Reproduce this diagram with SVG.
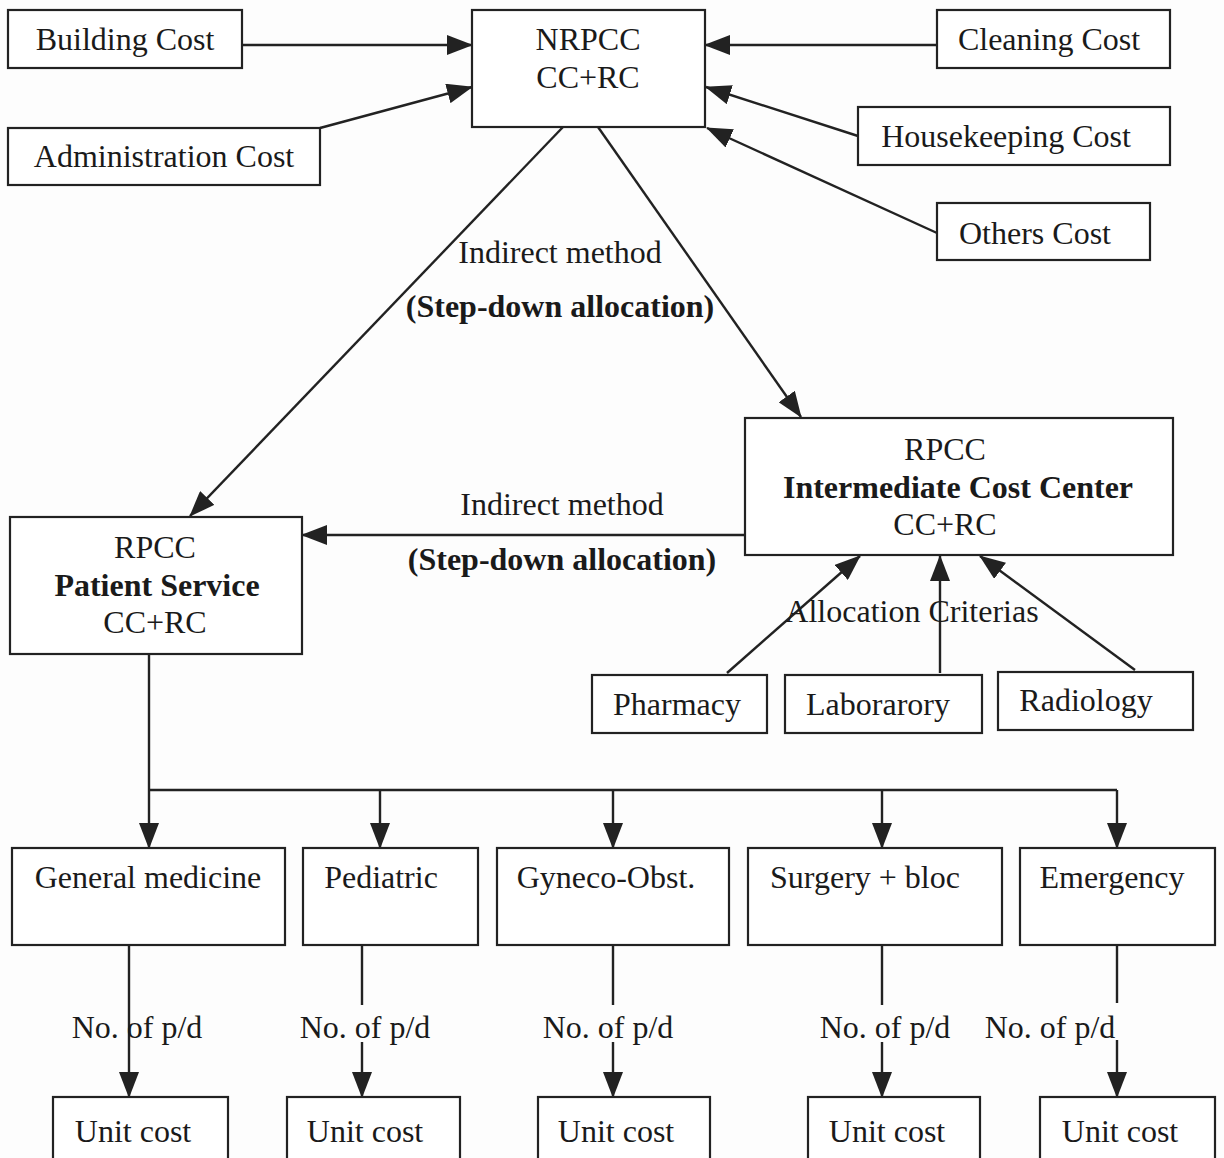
<svg xmlns="http://www.w3.org/2000/svg" width="1224" height="1158" viewBox="0 0 1224 1158">
<style>
.box{fill:#ffffff;stroke:#222;stroke-width:2.2}
.t{font-family:"Liberation Serif","Times New Roman",serif;font-size:32px;fill:#1a1a1a;text-anchor:middle}
.b{font-weight:bold}
.c{fill:none;stroke:#222;stroke-width:2.4}
.ca{fill:none;stroke:#222;stroke-width:2.4;marker-end:url(#ah)}
</style>
<defs>
<marker id="ah" markerUnits="userSpaceOnUse" markerWidth="26" markerHeight="20" viewBox="0 0 26 20" refX="25" refY="10" orient="auto">
<path d="M0,0 L26,10 L0,20 z" fill="#222"/>
</marker>
</defs>
<rect width="1224" height="1158" fill="#fdfdfd"/>
<g id="connectors">
<line class="ca" x1="242" y1="45" x2="472" y2="45"/>
<line class="ca" x1="320" y1="128" x2="472" y2="87"/>
<line class="ca" x1="937" y1="45" x2="705" y2="45"/>
<line class="ca" x1="858" y1="136" x2="706" y2="87"/>
<line class="ca" x1="937" y1="233" x2="707" y2="128"/>
<line class="ca" x1="563" y1="127" x2="190" y2="516"/>
<line class="ca" x1="598" y1="127" x2="801" y2="417"/>
<line class="ca" x1="745" y1="535" x2="302" y2="535"/>
<line class="ca" x1="727" y1="673" x2="860" y2="556"/>
<line class="ca" x1="940" y1="673" x2="940" y2="556"/>
<line class="ca" x1="1135" y1="670" x2="980" y2="556"/>
<line class="c" x1="149" y1="654" x2="149" y2="790"/>
<line class="ca" x1="149" y1="790" x2="149" y2="848"/>
<line class="c" x1="149" y1="790" x2="1117" y2="790"/>
<line class="ca" x1="380" y1="790" x2="380" y2="848"/>
<line class="ca" x1="613" y1="790" x2="613" y2="848"/>
<line class="ca" x1="882" y1="790" x2="882" y2="848"/>
<line class="ca" x1="1117" y1="790" x2="1117" y2="848"/>
<line class="ca" x1="129" y1="945" x2="129" y2="1097"/>
<line class="c" x1="362" y1="945" x2="362" y2="1005"/>
<line class="ca" x1="362" y1="1042" x2="362" y2="1097"/>
<line class="c" x1="613" y1="945" x2="613" y2="1005"/>
<line class="ca" x1="613" y1="1042" x2="613" y2="1097"/>
<line class="c" x1="882" y1="945" x2="882" y2="1005"/>
<line class="ca" x1="882" y1="1042" x2="882" y2="1097"/>
<line class="c" x1="1117" y1="945" x2="1117" y2="1003"/>
<line class="ca" x1="1117" y1="1040" x2="1117" y2="1097"/>
<text class="t" x="560" y="263">Indirect method</text>
<text class="t b" x="560" y="317">(Step-down allocation)</text>
<text class="t" x="562" y="515">Indirect method</text>
<text class="t b" x="562" y="570">(Step-down allocation)</text>
<text class="t" x="912" y="622">Allocation Criterias</text>
<text class="t" x="137" y="1038">No. of p/d</text>
<text class="t" x="365" y="1038">No. of p/d</text>
<text class="t" x="608" y="1038">No. of p/d</text>
<text class="t" x="885" y="1038">No. of p/d</text>
<text class="t" x="1050" y="1038">No. of p/d</text>
</g>
<g id="building"><rect class="box" x="8" y="10" width="234" height="58"/><text class="t" x="125" y="50">Building Cost</text></g>
<g id="nrpcc"><rect class="box" x="472" y="10" width="233" height="117"/><text class="t" x="588" y="50">NRPCC</text><text class="t" x="588" y="88">CC+RC</text></g>
<g id="cleaning"><rect class="box" x="937" y="10" width="233" height="58"/><text class="t" x="1049" y="50">Cleaning Cost</text></g>
<g id="admin"><rect class="box" x="8" y="128" width="312" height="57"/><text class="t" x="164" y="167">Administration Cost</text></g>
<g id="housekeeping"><rect class="box" x="858" y="107" width="312" height="58"/><text class="t" x="1006" y="147">Housekeeping Cost</text></g>
<g id="others"><rect class="box" x="937" y="203" width="213" height="57"/><text class="t" x="1035" y="244">Others Cost</text></g>
<g id="intermediate"><rect class="box" x="745" y="418" width="428" height="137"/><text class="t" x="945" y="460">RPCC</text><text class="t b" x="958" y="498">Intermediate Cost Center</text><text class="t" x="945" y="535">CC+RC</text></g>
<g id="patient"><rect class="box" x="10" y="517" width="292" height="137"/><text class="t" x="155" y="558">RPCC</text><text class="t b" x="157" y="596">Patient Service</text><text class="t" x="155" y="633">CC+RC</text></g>
<g id="pharmacy"><rect class="box" x="592" y="675" width="175" height="58"/><text class="t" x="677" y="715">Pharmacy</text></g>
<g id="laboratory"><rect class="box" x="785" y="675" width="197" height="58"/><text class="t" x="878" y="715">Laborarory</text></g>
<g id="radiology"><rect class="box" x="998" y="672" width="195" height="58"/><text class="t" x="1086" y="711">Radiology</text></g>
<g id="genmed"><rect class="box" x="12" y="848" width="273" height="97"/><text class="t" x="148" y="888">General medicine</text></g>
<g id="pediatric"><rect class="box" x="303" y="848" width="175" height="97"/><text class="t" x="381" y="888">Pediatric</text></g>
<g id="gyneco"><rect class="box" x="497" y="848" width="232" height="97"/><text class="t" x="606" y="888">Gyneco-Obst.</text></g>
<g id="surgery"><rect class="box" x="748" y="848" width="254" height="97"/><text class="t" x="865" y="888">Surgery + bloc</text></g>
<g id="emergency"><rect class="box" x="1020" y="848" width="195" height="97"/><text class="t" x="1112" y="888">Emergency</text></g>
<g id="unit1"><rect class="box" x="53" y="1097" width="175" height="70"/><text class="t" x="133" y="1142">Unit cost</text></g>
<g id="unit2"><rect class="box" x="287" y="1097" width="173" height="70"/><text class="t" x="365" y="1142">Unit cost</text></g>
<g id="unit3"><rect class="box" x="538" y="1097" width="172" height="70"/><text class="t" x="616" y="1142">Unit cost</text></g>
<g id="unit4"><rect class="box" x="808" y="1097" width="172" height="70"/><text class="t" x="887" y="1142">Unit cost</text></g>
<g id="unit5"><rect class="box" x="1040" y="1097" width="175" height="70"/><text class="t" x="1120" y="1142">Unit cost</text></g>
</svg>
